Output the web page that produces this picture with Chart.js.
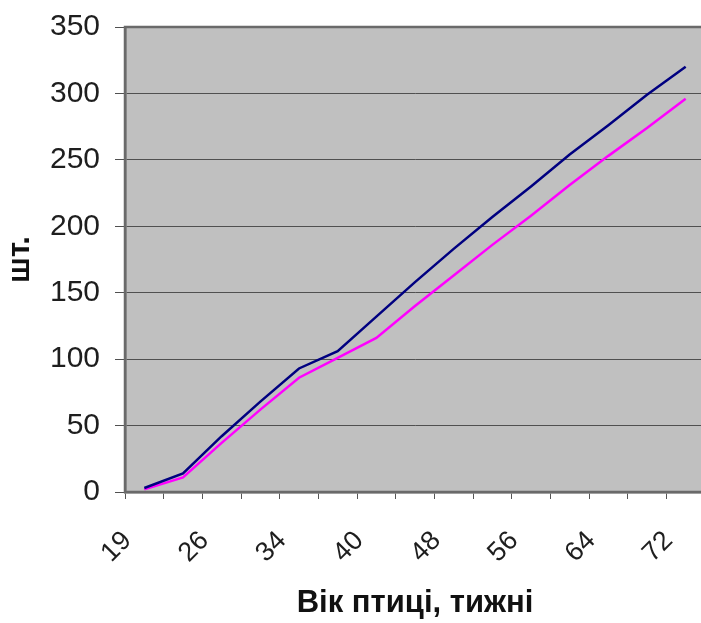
<!DOCTYPE html>
<html>
<head>
<meta charset="utf-8">
<script src="https://cdn.jsdelivr.net/npm/chart.js@4/dist/chart.umd.min.js"></script>
<style>
  html, body { margin: 0; padding: 0; background: #ffffff; overflow: hidden; }
  #wrap { width: 701px; height: 623px; overflow: hidden; }
  canvas { display: block; }
</style>
</head>
<body>
<div id="wrap"><canvas id="c" width="712" height="623"></canvas></div>
<script>
// Age of the bird, weeks (only every other category carries a label)
const weeks = ['19', '', '26', '', '34', '', '40', '', '48', '', '56', '', '64', '', '72'];

// Cumulative count, pcs.
const seriesA = [3, 14, 42, 68, 93, 106, 132, 158, 183, 207, 230, 254, 276, 299, 320];
const seriesB = [2, 11, 37, 62, 86, 101, 116, 140, 163, 186, 208, 231, 253, 274, 296];

// Value axis ticks
const yTicks = [0, 50, 100, 150, 200, 250, 300, 350];

const FONT = "'Liberation Sans', Arial, sans-serif";

// grey plot area and its frame
const plotFrame = {
  id: 'plotFrame',
  beforeDraw(chart) {
    const a = chart.chartArea, ctx = chart.ctx;
    ctx.save();
    ctx.fillStyle = '#c0c0c0';
    ctx.fillRect(a.left, a.top, a.right - a.left, a.bottom - a.top);
    ctx.restore();
  },
  afterDraw(chart) {
    const a = chart.chartArea, ctx = chart.ctx;
    ctx.save();
    ctx.strokeStyle = '#6a6a6a';
    ctx.lineWidth = 2.5;
    ctx.strokeRect(a.left, a.top, a.right - a.left, a.bottom - a.top);
    ctx.restore();
  }
};

// fixed axis boxes so the plot area keeps its place
function noEdgePadding(scale) {
  scale.paddingTop = 0;
  scale.paddingBottom = 0;
  scale.paddingLeft = 0;
  scale.paddingRight = 0;
}

new Chart(document.getElementById('c'), {
  type: 'line',
  data: {
    labels: weeks,
    datasets: [
      { data: seriesA, borderColor: '#000080', borderWidth: 2.5, pointRadius: 0, tension: 0, fill: false },
      { data: seriesB, borderColor: '#ff00ff', borderWidth: 2.5, pointRadius: 0, tension: 0, fill: false }
    ]
  },
  options: {
    responsive: false,
    animation: false,
    devicePixelRatio: 1,
    layout: { padding: { top: 27, right: 7, left: 0, bottom: 0 } },
    plugins: { legend: { display: false }, tooltip: { enabled: false } },
    scales: {
      x: {
        type: 'category',
        offset: true,
        afterFit(scale) { scale.height = 131; noEdgePadding(scale); },
        grid: { display: true, offset: true, drawOnChartArea: false, drawTicks: true, tickLength: 7, color: '#555555', lineWidth: 1 },
        border: { display: true, color: '#6a6a6a', width: 2.5 },
        ticks: {
          autoSkip: false, maxRotation: 45, minRotation: 45, padding: 26, labelOffset: -17,
          color: '#1e1e1e', font: { family: FONT, size: 27 }
        },
        title: {
          display: true, text: 'Вік птиці, тижні', color: '#111111',
          font: { family: FONT, size: 31, weight: 'bold' }, padding: { top: 0, bottom: 1 }
        }
      },
      y: {
        min: 0, max: 350,
        afterFit(scale) { scale.width = 125; noEdgePadding(scale); },
        afterBuildTicks(scale) { scale.ticks = yTicks.map(v => ({ value: v })); },
        grid: { color: '#505050', lineWidth: 1, tickLength: 10, drawTicks: true },
        border: { display: true, color: '#6a6a6a', width: 2.5 },
        ticks: { padding: 15, color: '#1e1e1e', font: { family: FONT, size: 30 } },
        title: {
          display: true, text: 'шт.', color: '#111111',
          font: { family: FONT, size: 31, weight: 'bold' }, padding: { top: 2, bottom: 2 }
        }
      }
    }
  },
  plugins: [plotFrame]
});
</script>
</body>
</html>
